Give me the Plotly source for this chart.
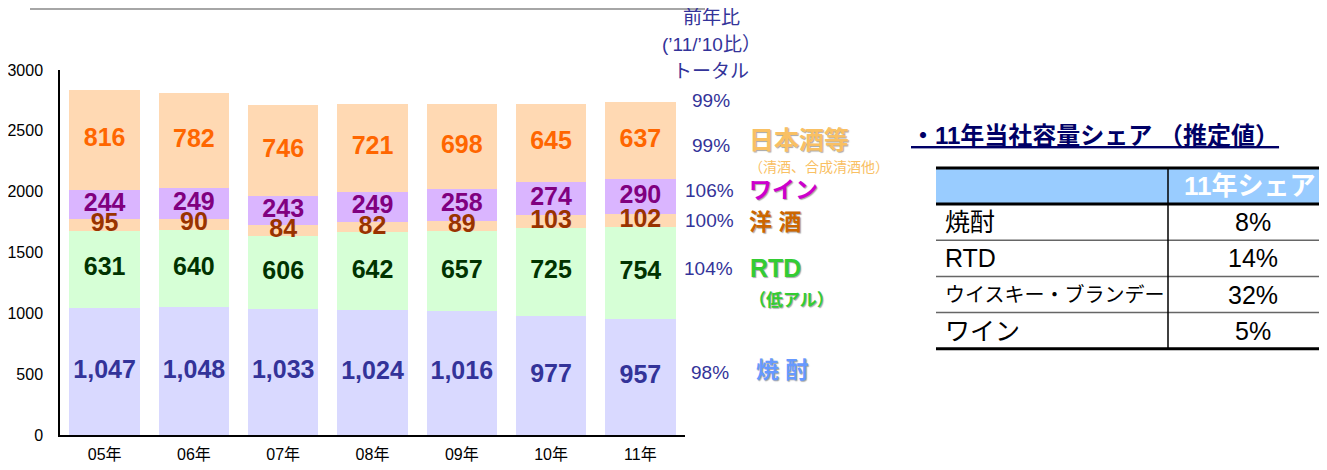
import plotly.graph_objects as go

# ---------------- data ----------------
years = ["05年", "06年", "07年", "08年", "09年", "10年", "11年"]
shochu = [1047, 1048, 1033, 1024, 1016, 977, 957]
rtd = [631, 640, 606, 642, 657, 725, 754]
yoshu = [95, 90, 84, 82, 89, 103, 102]
wine = [244, 249, 243, 249, 258, 274, 290]
sake = [816, 782, 746, 721, 698, 645, 637]

y_ticks = [0, 500, 1000, 1500, 2000, 2500, 3000]

header_lines = ["前年比", "(’11/’10比）", "トータル"]
total_yoy = "99%"
series_yoy = ["98%", "104%", "100%", "106%", "99%"]          # shochu, rtd, yoshu, wine, sake
series_names = ["焼 酎", "RTD", "洋 酒", "ワイン", "日本酒等"]
series_subnames = ["", "（低アル）", "", "", "（清酒、合成清酒他）"]

table_title = "・11年当社容量シェア （推定値）"
table_header = "11年シェア"
table_labels = ["焼酎", "RTD", "ウイスキー・ブランデー", "ワイン"]
table_shares = ["8%", "14%", "32%", "5%"]

# ---------------- styling ----------------
PAGE_W, PAGE_H = 1327, 470
OFF = 8                                  # default body margin of the page
W, H = PAGE_W - 2 * OFF, PAGE_H - 2 * OFF
L, R, T, B = 60, 685, 70, 435            # plot area in page pixels

def px(x):
    return (x - L) / (R - L)

def py(y):
    return (B - y) / (B - T)

FONT = "Liberation Sans, Arial, Noto Sans CJK JP"
JFONT = "Noto Sans CJK JP, Liberation Sans"

series = [shochu, rtd, yoshu, wine, sake]
bar_colors = ["#D9D9FF", "#D6FFD6", "#FFD9B3", "#DAB5FF", "#FFD9B3"]
text_colors = ["#333399", "#003300", "#993300", "#800080", "#FF6600"]
name_colors = ["#6699FF", "#33CC33", "#CC6600", "#CC00CC", "#F9C063"]

fig = go.Figure()

for vals, col in zip(series, bar_colors):
    fig.add_trace(go.Bar(x=years, y=vals, marker=dict(color=col, line=dict(width=0)),
                         hoverinfo="skip", showlegend=False))

# value labels at segment centers
base = [0] * len(years)
for vals, tcol in zip(series, text_colors):
    mids = [b + v / 2 for b, v in zip(base, vals)]
    fig.add_trace(go.Scatter(x=years, y=mids, mode="text",
                             text=[f"{v:,}" for v in vals],
                             textfont=dict(family=FONT, size=25, color=tcol, weight="bold"),
                             hoverinfo="skip", showlegend=False))
    base = [b + v for b, v in zip(base, vals)]

annotations = []
shapes = []

# header text on the right of bars
for txt, yy in zip(header_lines + [total_yoy], [18, 45, 72, 100]):
    annotations.append(dict(x=px(711), y=py(yy), xref="paper", yref="paper", text=txt,
                            showarrow=False, xanchor="center", yanchor="middle",
                            font=dict(family=FONT, size=19, color="#333399")))

yoy_pos = [(710, 372), (708, 268), (709, 220), (709, 190), (711, 145)]
name_pos = [(754, 370), (748, 268), (747, 222), (747, 190), (747, 140)]
name_sizes = [23, 25, 23, 23, 25]
sub_pos = [None, (747, 298), None, None, (747, 166)]
sub_sizes = [0, 17, 0, 0, 14]

for i in range(5):
    x, y = yoy_pos[i]
    annotations.append(dict(x=px(x), y=py(y), xref="paper", yref="paper", text=series_yoy[i],
                            showarrow=False, xanchor="center", yanchor="middle",
                            font=dict(family=FONT, size=19, color="#333399")))
    x, y = name_pos[i]
    annotations.append(dict(x=px(x), y=py(y), xref="paper", yref="paper", text=series_names[i],
                            showarrow=False, xanchor="left", yanchor="middle",
                            font=dict(family=FONT, size=name_sizes[i], color=name_colors[i],
                                      weight="bold", shadow="1px 1px 1px rgba(0,0,0,0.35)")))
    if series_subnames[i]:
        x, y = sub_pos[i]
        annotations.append(dict(x=px(x), y=py(y), xref="paper", yref="paper",
                                text=series_subnames[i], showarrow=False,
                                xanchor="left", yanchor="middle",
                                font=dict(family=JFONT, size=sub_sizes[i], color=name_colors[i],
                                          weight="bold" if i == 1 else "normal",
                                          shadow="1px 1px 1px rgba(0,0,0,0.35)" if i == 1 else "none")))

# top gray rule
shapes.append(dict(type="line", xref="paper", yref="paper", x0=px(30), x1=px(705),
                   y0=py(9), y1=py(9), line=dict(color="#A6A6A6", width=2)))

# ---------------- share table ----------------
annotations.append(dict(x=px(909), y=py(135), xref="paper", yref="paper",
                        text=f"<u>{table_title}</u>", showarrow=False,
                        xanchor="left", yanchor="middle",
                        font=dict(family=FONT, size=24, color="#000066", weight="bold")))

TL, TR, DIV = 936, 1327, 1168
row_top = 204
row_h = 36.2
shapes.append(dict(type="rect", xref="paper", yref="paper", x0=px(TL), x1=px(TR),
                   y0=py(169), y1=py(204), fillcolor="#99CCFF", line=dict(width=0), layer="below"))
annotations.append(dict(x=px(1250), y=py(186), xref="paper", yref="paper", text=table_header,
                        showarrow=False, xanchor="center", yanchor="middle",
                        font=dict(family=FONT, size=26, color="white", weight="bold")))
n = len(table_labels)
for i, (lab, val) in enumerate(zip(table_labels, table_shares)):
    yc = row_top + row_h * (i + 0.5)
    size = 25 if len(lab) <= 3 else 20
    annotations.append(dict(x=px(943), y=py(yc), xref="paper", yref="paper", text=lab,
                            showarrow=False, xanchor="left", yanchor="middle",
                            font=dict(family=FONT, size=size, color="black")))
    annotations.append(dict(x=px(1253), y=py(yc), xref="paper", yref="paper", text=val,
                            showarrow=False, xanchor="center", yanchor="middle",
                            font=dict(family=FONT, size=25, color="black")))
    if i < n - 1:
        yl = row_top + row_h * (i + 1)
        shapes.append(dict(type="line", xref="paper", yref="paper", x0=px(TL), x1=px(TR),
                           y0=py(yl), y1=py(yl), line=dict(color="#666666", width=1.5)))
table_bottom = row_top + row_h * n
for yl in [168, 204, table_bottom]:
    shapes.append(dict(type="line", xref="paper", yref="paper", x0=px(TL), x1=px(TR),
                       y0=py(yl), y1=py(yl), line=dict(color="black", width=3)))
shapes.append(dict(type="line", xref="paper", yref="paper", x0=px(DIV), x1=px(DIV),
                   y0=py(168), y1=py(table_bottom), line=dict(color="black", width=1.5)))

fig.update_layout(
    width=W, height=H,
    margin=dict(l=L - OFF, r=W - (R - OFF), t=T - OFF, b=H - (B - OFF), pad=0, autoexpand=False),
    paper_bgcolor="white", plot_bgcolor="white",
    barmode="stack", bargap=0.21,
    showlegend=False,
    annotations=annotations, shapes=shapes,
    font=dict(family=FONT, color="black"),
    xaxis=dict(type="category", range=[-0.5, 6.5], showline=True, linecolor="black",
               linewidth=1.5, showgrid=False, ticks="", ticklabelstandoff=4, automargin=False,
               tickfont=dict(family=FONT, size=16, color="black"), fixedrange=True),
    yaxis=dict(range=[0, 3000], tickvals=y_ticks, showline=True, linecolor="black",
               linewidth=1.5, showgrid=False, zeroline=False, ticks="", ticklabelstandoff=12,
               automargin=False,
               tickfont=dict(family=FONT, size=16, color="black"), fixedrange=True),
)

fig.write_html("out.html")
